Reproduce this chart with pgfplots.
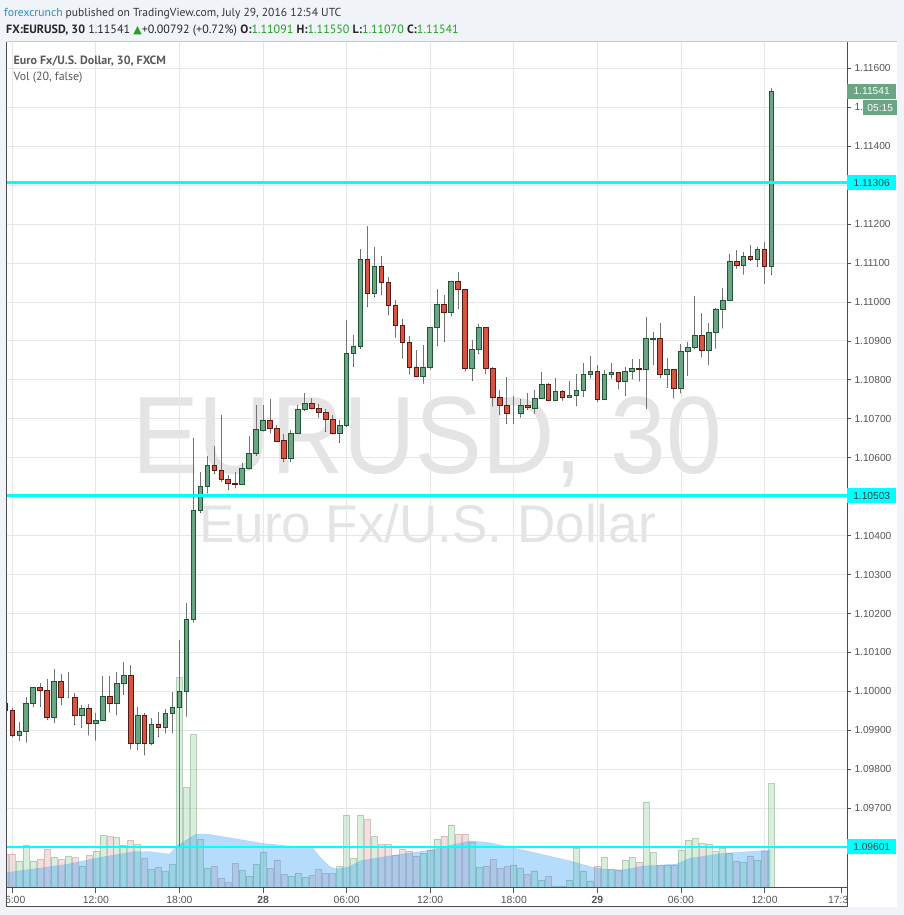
\documentclass[border=0pt]{standalone}
\usepackage{pgfplots}
\pgfplotsset{compat=1.18}
\usepackage{pgfplotstable}
\usepackage{fontspec}
\setmainfont{Liberation Sans}
\newfontfamily\hdr{PT Sans}
\newfontfamily\sym{DejaVu Sans}

\definecolor{bgc}{HTML}{F0F3F7}
\definecolor{gridc}{HTML}{E6E6E6}
\definecolor{framec}{HTML}{4D4D4D}
\definecolor{tickc}{HTML}{555555}
\definecolor{upF}{HTML}{6BA583}
\definecolor{upD}{HTML}{225437}
\definecolor{dnF}{HTML}{D75442}
\definecolor{dnD}{HTML}{5B1A13}
\definecolor{wick}{HTML}{737373}
\definecolor{vgreen}{HTML}{8FCB97}
\definecolor{vred}{HTML}{DDB0B0}
\definecolor{maBlue}{HTML}{2196F3}
\definecolor{lvl}{HTML}{00FFFF}
\definecolor{tvblue}{HTML}{2A8BC9}
\definecolor{hgreen}{HTML}{22A022}
\definecolor{wm}{HTML}{E4E4E4}

% up (green) candles: time in hours from 27 Jul 00:00, O H L C, volume
\pgfplotstableread{
t    O       H       L       C       V
6.5  1.09888 1.09922 1.09874 1.09896 26.7
7.0  1.09896 1.09985 1.09869 1.09970 42.3
7.5  1.09970 1.10009 1.09960 1.10009 26.7
9.0  1.09932 1.10057 1.09919 1.10026 30.3
10.0 1.09985 1.10050 1.09984 1.09985 31.3
11.0 1.09939 1.09966 1.09907 1.09955 21.3
12.0 1.09919 1.09944 1.09874 1.09926 36.7
12.5 1.09926 1.10040 1.09926 1.09988 52.3
13.5 1.09970 1.10050 1.09939 1.10021 50.3
14.0 1.10021 1.10075 1.09991 1.10042 42.3
15.0 1.09867 1.09961 1.09850 1.09939 43.3
16.0 1.09866 1.09931 1.09863 1.09916 18.3
17.0 1.09907 1.09954 1.09893 1.09944 16.0
17.5 1.09944 1.09998 1.09893 1.09960 23.3
18.0 1.09960 1.10133 1.09605 1.10001 210
18.5 1.10001 1.10227 1.09936 1.10186 100
19.0 1.10186 1.10650 1.10177 1.10465 153
19.5 1.10465 1.10564 1.10459 1.10527 48.3
20.0 1.10527 1.10605 1.10509 1.10581 19.3
22.5 1.10532 1.10586 1.10532 1.10573 17.3
23.0 1.10573 1.10656 1.10570 1.10612 11.3
23.5 1.10612 1.10736 1.10605 1.10672 23.3
24.0 1.10670 1.10736 1.10668 1.10697 35.3
26.0 1.10598 1.10672 1.10590 1.10663 11.3
26.5 1.10663 1.10736 1.10663 1.10723 14.3
27.0 1.10723 1.10767 1.10721 1.10740 10.3
29.5 1.10663 1.10697 1.10639 1.10683 21.3
30.0 1.10683 1.10954 1.10680 1.10868 72.7
30.5 1.10868 1.10915 1.10834 1.10887 29.3
31.0 1.10887 1.11136 1.10880 1.11110 72.7
32.0 1.11022 1.11140 1.11014 1.11092 51.3
35.5 1.10809 1.10890 1.10791 1.10833 34.3
36.0 1.10833 1.10935 1.10827 1.10935 37.7
36.5 1.10935 1.11033 1.10888 1.10994 48.3
37.5 1.10974 1.11053 1.10963 1.11053 62.7
39.0 1.10829 1.10903 1.10798 1.10879 45.0
39.5 1.10879 1.10944 1.10867 1.10935 20.3
42.0 1.10714 1.10759 1.10687 1.10714 22.7
42.5 1.10714 1.10750 1.10704 1.10733 19.3
43.5 1.10727 1.10774 1.10714 1.10753 16.7
44.0 1.10753 1.10821 1.10753 1.10789 7.7
45.0 1.10748 1.10804 1.10746 1.10771 1.0
46.0 1.10756 1.10797 1.10755 1.10761 7.7
46.5 1.10761 1.10815 1.10733 1.10773 39.3
47.0 1.10773 1.10844 1.10757 1.10815 16.7
47.5 1.10815 1.10862 1.10804 1.10822 6.7
48.5 1.10750 1.10825 1.10750 1.10815 30.3
49.0 1.10815 1.10844 1.10804 1.10820 18.3
50.0 1.10797 1.10834 1.10759 1.10822 27.7
50.5 1.10822 1.10853 1.10802 1.10830 30.3
51.5 1.10826 1.10961 1.10725 1.10907 85.7
52.0 1.10905 1.10922 1.10838 1.10907 35.3
53.0 1.10815 1.10856 1.10780 1.10827 22.7
54.0 1.10779 1.10891 1.10766 1.10873 37.7
54.5 1.10873 1.10898 1.10810 1.10884 47.7
55.0 1.10884 1.11016 1.10879 1.10915 49.3
56.0 1.10875 1.10945 1.10838 1.10921 43.7
56.5 1.10921 1.10984 1.10881 1.10980 36.0
57.0 1.10980 1.11035 1.10933 1.11003 39.0
57.5 1.11003 1.11123 1.11003 1.11104 34.3
58.5 1.11093 1.11127 1.11071 1.11117 25.3
59.5 1.11110 1.11142 1.11091 1.11135 27.0
60.5 1.11091 1.11550 1.11070 1.11541 104.3
}\up

% down (red) candles
\pgfplotstableread{
t    O       H       L       C       V
5.5  1.09970 1.09980 1.09940 1.09951 33.7
6.0  1.09951 1.09957 1.09883 1.09888 33.7
8.0  1.10009 1.10022 1.09961 1.10003 28.7
8.5  1.10003 1.10032 1.09927 1.09932 38.3
9.5  1.10026 1.10045 1.09965 1.09985 28.3
10.5 1.09985 1.09997 1.09915 1.09939 30.0
11.5 1.09955 1.09968 1.09887 1.09919 32.3
13.0 1.09988 1.10040 1.09946 1.09970 51.3
14.5 1.10042 1.10068 1.09852 1.09867 47.3
15.5 1.09939 1.09944 1.09837 1.09867 29.3
16.5 1.09916 1.09947 1.09884 1.09907 20.3
20.5 1.10581 1.10629 1.10559 1.10568 21.3
21.0 1.10568 1.10710 1.10539 1.10545 9.3
21.5 1.10545 1.10556 1.10518 1.10535 5.3
22.0 1.10535 1.10564 1.10522 1.10532 24.3
24.5 1.10697 1.10751 1.10663 1.10676 19.3
25.0 1.10676 1.10685 1.10640 1.10642 27.7
25.5 1.10644 1.10660 1.10590 1.10598 13.0
27.5 1.10740 1.10753 1.10724 1.10727 12.3
28.0 1.10727 1.10738 1.10704 1.10717 18.3
28.5 1.10717 1.10726 1.10667 1.10699 14.3
29.0 1.10699 1.10710 1.10660 1.10663 14.3
31.5 1.11110 1.11195 1.10988 1.11022 68.3
32.5 1.11092 1.11118 1.11018 1.11051 43.3
33.0 1.11051 1.11065 1.10967 1.10992 43.3
33.5 1.10992 1.11005 1.10909 1.10940 32.7
34.0 1.10940 1.10956 1.10855 1.10897 38.3
34.5 1.10897 1.10913 1.10815 1.10833 36.7
35.0 1.10833 1.10877 1.10809 1.10809 31.7
37.0 1.10994 1.11018 1.10898 1.10974 51.7
38.0 1.11053 1.11077 1.10983 1.11033 53.7
38.5 1.11033 1.11033 1.10822 1.10829 53.7
40.0 1.10935 1.10935 1.10815 1.10829 21.7
40.5 1.10829 1.10833 1.10732 1.10755 28.3
41.0 1.10755 1.10774 1.10711 1.10733 19.3
41.5 1.10733 1.10807 1.10687 1.10714 21.0
43.0 1.10733 1.10767 1.10723 1.10728 13.3
44.5 1.10789 1.10793 1.10746 1.10748 11.7
45.5 1.10771 1.10773 1.10747 1.10756 1.7
48.0 1.10822 1.10839 1.10743 1.10750 21.7
49.5 1.10820 1.10820 1.10776 1.10797 17.7
51.0 1.10830 1.10853 1.10796 1.10826 25.3
52.5 1.10907 1.10945 1.10806 1.10815 22.0
53.5 1.10827 1.10827 1.10753 1.10779 22.7
55.5 1.10915 1.10971 1.10858 1.10875 44.7
58.0 1.11104 1.11134 1.11086 1.11093 26.7
59.0 1.11117 1.11146 1.11106 1.11110 31.7
60.0 1.11135 1.11153 1.11048 1.11091 36.0
}\dn

\pgfplotsset{
  base/.style={scale only axis, width=840.3pt, height=846pt,
    at={(6.7pt,27.3pt)}, anchor=south west,
    xmin=5.598, xmax=65.92, enlargelimits=false, clip=true},
  price/.style={base, ymin=1.09496, ymax=1.116683},
  wicks/.style={only marks, mark=*, mark size=0.01pt,
    mark options={draw=none, fill=none},
    error bars/.cd, y dir=plus, y explicit, error mark=none,
    error bar style={color=wick, line width=1pt}},
}

\begin{document}
\begin{tikzpicture}[x=1pt,y=1pt]
\useasboundingbox (0,0) rectangle (904,915);
\fill[bgc] (0,0) rectangle (904,915);
\fill[white] (6.7,8) rectangle (897,873.3);
\draw[gridc!70!gray, line width=0.8pt] (6.7,873.3) -- (897,873.3);

% watermark
\node[anchor=base, text=wm, inner sep=0, xscale=0.91,
  font=\fontsize{110}{110}\selectfont] at (427,441) {EURUSD, 30};
\node[anchor=base, text=wm, inner sep=0,
  font=\fontsize{53}{53}\selectfont] at (427.5,372) {Euro Fx/U.S. Dollar};

% grid and price scale (levels covered by label boxes are left blank)
\begin{axis}[price, axis line style={draw=none},
  xtick={6,12,18,24,30,36,42,48,54,60}, xticklabels={},
  xtick style={draw=none},
  ytick={1.096,1.097,1.098,1.099,1.100,1.101,1.102,1.103,1.104,1.105,1.106,
    1.107,1.108,1.109,1.110,1.111,1.112,1.113,1.114,1.115,1.116},
  yticklabels={,1.09700,1.09800,1.09900,1.10000,1.10100,1.10200,
    1.10300,1.10400,,1.10600,1.10700,1.10800,1.10900,1.11000,1.11100,
    1.11200,,1.11400,1.,1.11600},
  ytick pos=right, yticklabel pos=right, tick align=outside,
  major tick length=4pt, ytick style={color=tickc, line width=0.8pt},
  yticklabel style={font=\fontsize{10.2}{12}\selectfont, text=tickc},
  grid=major, major grid style={color=gridc, line width=0.9pt}]
\end{axis}

% volume
\begin{axis}[base, hide axis, ymin=0, ymax=846]
\addplot[ybar, bar width=6pt, bar shift=0pt, fill=vgreen, fill opacity=0.32,
  draw=vgreen!80!black, draw opacity=0.45, line width=0.6pt]
  table[x=t, y=V] {\up};
\addplot[ybar, bar width=6pt, bar shift=0pt, fill=vred, fill opacity=0.38,
  draw=vred!80!black, draw opacity=0.45, line width=0.6pt]
  table[x=t, y=V] {\dn};
\addplot[fill=maBlue, fill opacity=0.33, draw=maBlue, draw opacity=0.2]
  coordinates {(5.6,15.3) (7.5,18.7) (9.9,23.3) (12.3,30.3) (14.7,36)
  (15.9,36) (17.3,33.7) (17.8,41.7) (18.5,47.7) (19.2,53.7) (20,53.7)
  (21.9,49.3) (24,44.3) (25.9,41.7) (27.6,39.3) (28.1,30.3) (28.8,21)
  (29.3,18.7) (30.2,21) (31,27) (32.4,30.3) (33.8,33.3) (36,37.7)
  (38.9,47) (40.3,45) (43.2,36) (46,27) (47.5,21) (48.4,18.7) (49.8,17.7)
  (51.3,21.7) (53.7,23.7) (54.6,29.3) (57,34.3) (60.4,37.7)} \closedcycle;
\end{axis}

% wicks
\begin{axis}[price, hide axis]
\addplot[wicks] table[x=t, y=L, y error expr=\thisrow{H}-\thisrow{L}] {\up};
\addplot[wicks] table[x=t, y=L, y error expr=\thisrow{H}-\thisrow{L}] {\dn};
\end{axis}

% green bodies
\begin{axis}[price, hide axis, ybar stacked, bar width=4.6pt]
\addplot[draw=none, fill=none] table[x=t, y=O] {\up};
\addplot[draw=upD, fill=upF, line width=0.9pt]
  table[x=t, y expr=\thisrow{C}-\thisrow{O}] {\up};
\end{axis}

% red bodies
\begin{axis}[price, hide axis, ybar stacked, bar width=4.6pt]
\addplot[draw=none, fill=none] table[x=t, y=C] {\dn};
\addplot[draw=dnD, fill=dnF, line width=0.9pt]
  table[x=t, y expr=\thisrow{O}-\thisrow{C}] {\dn};
\end{axis}

% horizontal levels
\begin{axis}[price, hide axis]
\addplot[lvl, line width=2.6pt] coordinates {(5.598,1.11306) (65.92,1.11306)};
\addplot[lvl, line width=2.6pt] coordinates {(5.598,1.10503) (65.92,1.10503)};
\addplot[lvl, line width=2.6pt] coordinates {(5.598,1.09601) (65.92,1.09601)};
\coordinate (P1) at (axis cs:65.92,1.11306);
\coordinate (P2) at (axis cs:65.92,1.10503);
\coordinate (P3) at (axis cs:65.92,1.09601);
\coordinate (P4) at (axis cs:65.92,1.11541);
\end{axis}

% time scale (clipped to the chart width)
\begin{scope}
\clip (6.7,8) rectangle (847,27.3);
\begin{axis}[price, axis line style={draw=none}, ytick=\empty,
  xtick={6,12,18,24,30,36,42,48,54,60,65.5},
  xticklabels={06:00,12:00,18:00,\textbf{28},06:00,12:00,18:00,\textbf{29},06:00,12:00,17:30},
  xtick pos=bottom, tick align=outside, major tick length=5pt,
  xtick style={color=tickc, line width=0.8pt},
  xticklabel style={font=\fontsize{10.4}{12}\selectfont, text=tickc}]
\end{axis}
\end{scope}

% frame
\draw[framec, line width=1pt] (6.7,8) -- (6.7,873.3);
\draw[framec, line width=1pt] (6.7,27.3) -- (847,27.3);
\draw[framec, line width=1pt] (847,8) -- (847,873.3);
\draw[framec, line width=1pt] (6.7,8) -- (847,8);

% price labels on the scale
\tikzset{plab/.style={anchor=west, inner sep=0pt, minimum width=49pt,
  minimum height=15pt, font=\fontsize{10.2}{12}\selectfont}}
\node[plab, fill=lvl, text=black!75] at (P1) {1.11306};
\node[plab, fill=lvl, text=black!75] at (P2) {1.10503};
\node[plab, fill=lvl, text=black!75] at (P3) {1.09601};
\node[plab, fill=upF, text=white] at (P4) {1.11541};
\node[anchor=west, inner sep=0pt, minimum width=34pt, minimum height=15pt,
  fill=upF, text=white, font=\fontsize{10.2}{12}\selectfont]
  at ([xshift=16pt,yshift=-16.5pt]P4) {05:15};

% header
\node[anchor=base west, inner sep=0] at (4,898.5)
  {\hdr\fontsize{11.6}{14}\selectfont\textcolor{tvblue}{forexcrunch}
   \textcolor{black!80}{published on TradingView.com, July 29, 2016 12:54 UTC}};
\node[anchor=base west, inner sep=0] at (6,881)
  {\hdr\fontsize{12}{14}\selectfont\color{black!85}\textbf{FX:EURUSD, 30}
   1.11541 {\sym\color{hgreen}\fontsize{11}{12}\selectfont ▲}+0.00792 (+0.72\%)
   \textbf{O:}\textcolor{hgreen}{1.11091} \textbf{H:}\textcolor{hgreen}{1.11550}
   \textbf{L:}\textcolor{hgreen}{1.11070} \textbf{C:}\textcolor{hgreen}{1.11541}};
\node[anchor=base west, inner sep=0, text=black!65] at (13.5,850)
  {\hdr\bfseries\fontsize{12}{14}\selectfont Euro Fx/U.S. Dollar, 30, FXCM};
\node[anchor=base west, inner sep=0, text=black!65] at (13.5,834)
  {\hdr\fontsize{11.9}{14}\selectfont Vol (20, false)};
\end{tikzpicture}
\end{document}
